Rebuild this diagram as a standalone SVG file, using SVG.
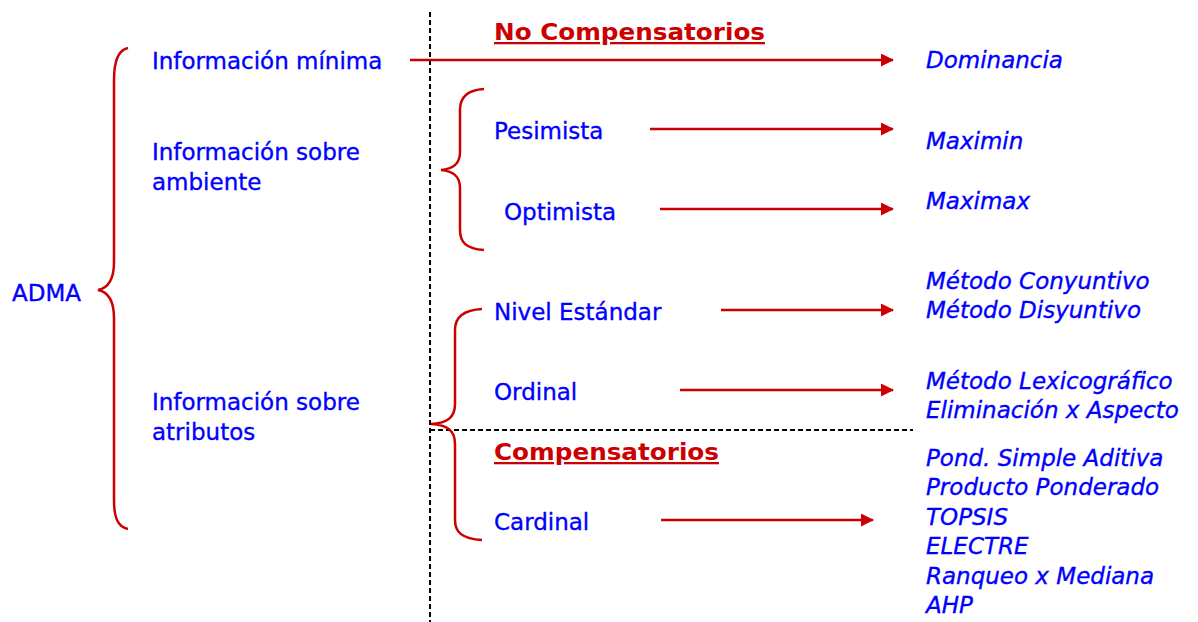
<svg xmlns="http://www.w3.org/2000/svg" width="1198" height="622" viewBox="0 0 1198 622">
<defs>
<marker id="ah" markerUnits="userSpaceOnUse" markerWidth="14" markerHeight="14" refX="12" refY="6.5" orient="auto">
<path d="M0,0 L13,6.5 L0,13 Z" fill="#cc0000"/>
</marker>
<style>
.t{font-family:"DejaVu Sans",Verdana,sans-serif;font-size:23px;fill:#0000ff;stroke:#0000ff;stroke-width:0.35}
.i{font-family:"DejaVu Sans",Verdana,sans-serif;font-size:23px;font-style:italic;fill:#0000ff;stroke:#0000ff;stroke-width:0.35}
.h{font-family:"DejaVu Sans",Verdana,sans-serif;font-size:23px;font-weight:bold;fill:#cc0000;text-decoration:underline}
.br{fill:none;stroke:#cc0000;stroke-width:2.5}
.ar{fill:none;stroke:#cc0000;stroke-width:2.5;marker-end:url(#ah)}
.ds{fill:none;stroke:#000;stroke-width:2;stroke-dasharray:5 3}
</style>
</defs>
<rect width="1198" height="622" fill="#fff"/>
<g id="dividers">
<line class="ds" x1="430" y1="12" x2="430" y2="622"/>
<line class="ds" x1="430" y1="430" x2="913" y2="430"/>
</g>
<g id="braces">
<path class="br" d="M128,48 C118,50 114,62 114,80 L114,262 C114,280 108,288 98,290 C108,292 114,300 114,318 L114,500 C114,518 118,527 128,529"/>
<path class="br" d="M484,89 C466,90 460,98 460,110 L460,152 C460,165 452,169 441,170 C452,171 460,175 460,188 L460,230 C460,242 466,249 484,250"/>
<path class="br" d="M482,309 C462,310 455,318 455,330 L455,404 C455,418 447,423 431,424 C447,425 455,430 455,444 L455,520 C455,532 462,539 482,540"/>
</g>
<g id="n-adma"><text class="t" x="12" y="301">ADMA</text></g>
<g id="n-minima"><text class="t" x="152" y="69">Información mínima</text></g>
<g id="n-ambiente"><text class="t" x="152" y="160">Información sobre</text><text class="t" x="152" y="190">ambiente</text></g>
<g id="n-atributos"><text class="t" x="152" y="410">Información sobre</text><text class="t" x="152" y="440">atributos</text></g>
<g id="h-nocomp"><text class="h" x="494" y="40" textLength="271" lengthAdjust="spacingAndGlyphs">No Compensatorios</text></g>
<g id="h-comp"><text class="h" x="494" y="460" textLength="225" lengthAdjust="spacingAndGlyphs">Compensatorios</text></g>
<g id="n-pesimista"><text class="t" x="494" y="139">Pesimista</text></g>
<g id="n-optimista"><text class="t" x="504" y="220">Optimista</text></g>
<g id="n-nivel"><text class="t" x="494" y="320">Nivel Estándar</text></g>
<g id="n-ordinal"><text class="t" x="494" y="400">Ordinal</text></g>
<g id="n-cardinal"><text class="t" x="494" y="530">Cardinal</text></g>
<g id="r-dominancia"><text class="i" x="926" y="68">Dominancia</text></g>
<g id="r-maximin"><text class="i" x="926" y="149">Maximin</text></g>
<g id="r-maximax"><text class="i" x="926" y="209">Maximax</text></g>
<g id="r-nivel"><text class="i" x="926" y="289">Método Conyuntivo</text><text class="i" x="926" y="318">Método Disyuntivo</text></g>
<g id="r-ordinal"><text class="i" x="926" y="389">Método Lexicográfico</text><text class="i" x="926" y="418">Eliminación x Aspecto</text></g>
<g id="r-cardinal">
<text class="i" x="926" y="466">Pond. Simple Aditiva</text>
<text class="i" x="926" y="495">Producto Ponderado</text>
<text class="i" x="926" y="525">TOPSIS</text>
<text class="i" x="926" y="554">ELECTRE</text>
<text class="i" x="926" y="584">Ranqueo x Mediana</text>
<text class="i" x="926" y="613">AHP</text>
</g>
<g id="connectors">
<line class="ar" x1="410" y1="60" x2="893" y2="60"/>
<line class="ar" x1="650" y1="129" x2="893" y2="129"/>
<line class="ar" x1="660" y1="209" x2="893" y2="209"/>
<line class="ar" x1="721" y1="310" x2="893" y2="310"/>
<line class="ar" x1="680" y1="390" x2="893" y2="390"/>
<line class="ar" x1="661" y1="520" x2="873" y2="520"/>
</g>
</svg>
